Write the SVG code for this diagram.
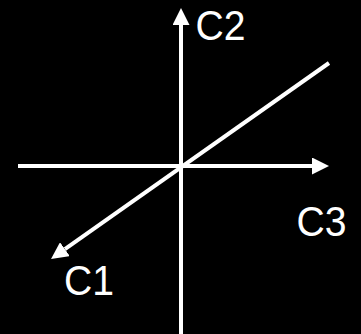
<svg xmlns="http://www.w3.org/2000/svg" width="361" height="334" viewBox="0 0 361 334">
<style>
.ax{stroke:#fff;stroke-width:4;fill:none;marker-end:url(#ah)}
.lbl{fill:#fff;font-family:"Liberation Sans",Arial,sans-serif;font-size:43px}
</style>
<defs>
<marker id="ah" markerUnits="userSpaceOnUse" markerWidth="17" markerHeight="17" viewBox="0 0 17 17" refX="0" refY="8.5" orient="auto">
<path d="M0,0 L17,8.5 L0,17 z" fill="#fff"/>
</marker>
</defs>
<rect width="361" height="334" fill="#000"/>
<g id="connectors">
<line class="ax" x1="181" y1="334" x2="181" y2="25"/>
<line class="ax" x1="18" y1="166" x2="312" y2="166"/>
<line class="ax" x1="329" y1="63" x2="64.9" y2="249.2"/>
</g>
<g id="c2"><text class="lbl" x="195.5" y="40" textLength="50" lengthAdjust="spacingAndGlyphs">C2</text></g>
<g id="c3"><text class="lbl" x="296.5" y="236" textLength="50" lengthAdjust="spacingAndGlyphs">C3</text></g>
<g id="c1"><text class="lbl" x="64" y="295" textLength="50" lengthAdjust="spacingAndGlyphs">C1</text></g>
</svg>
